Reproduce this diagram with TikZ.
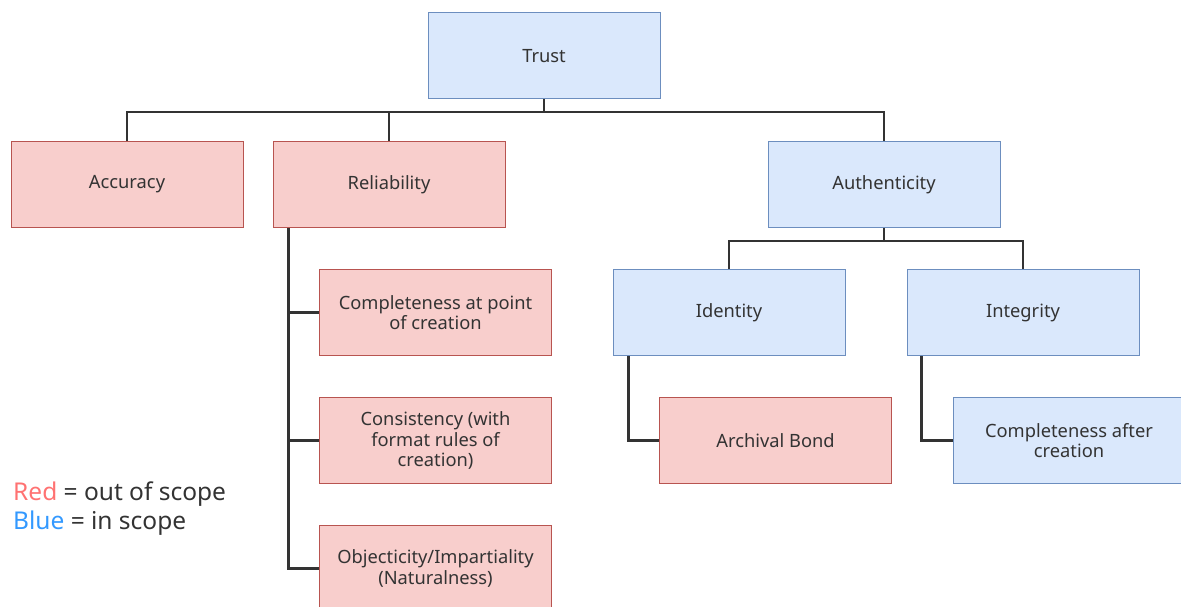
\documentclass[tikz,border=0pt]{standalone}
\usepackage{fontspec}
\setmainfont{Noto Sans}
\begin{document}
\begin{tikzpicture}[x=1pt,y=-1pt,
  every node/.style={font=\fontsize{18.3}{20.5}\selectfont, text=black!80},
  redbox/.style={draw=redline, fill=redfill, line width=1pt, minimum width=232pt, minimum height=86pt, align=center, inner sep=0pt},
  bluebox/.style={draw=blueline, fill=bluefill, line width=1pt, minimum width=232pt, minimum height=86pt, align=center, inner sep=0pt},
  link/.style={draw=linkgray, line width=2.8pt}
]
\definecolor{redfill}{HTML}{F8CECC}
\definecolor{redline}{HTML}{B85450}
\definecolor{bluefill}{HTML}{DAE8FC}
\definecolor{blueline}{HTML}{6C8EBF}
\definecolor{linkgray}{HTML}{333333}
\definecolor{legred}{HTML}{FF7272}
\definecolor{legblue}{HTML}{3399FF}
\useasboundingbox (0,0) rectangle (1181,607);

% boxes
\node[bluebox] (trust) at (544,56) {Trust};
\node[redbox] (acc) at (127,184.5) {Accuracy};
\node[redbox] (rel) at (389,184.5) {Reliability};
\node[bluebox] (auth) at (884,184.5) {Authenticity};
\node[redbox] (c1) at (435.5,312.5) {Completeness at point\\of creation};
\node[redbox] (c2) at (435.5,440.5) {Consistency (with\\format rules of\\creation)};
\node[redbox] (c3) at (435.5,568.5) {Objecticity/Impartiality\\(Naturalness)};
\node[bluebox] (ident) at (729,312.5) {Identity};
\node[bluebox] (integ) at (1023,312.5) {Integrity};
\node[redbox] (bond) at (775.5,440.5) {Archival Bond};
\node[bluebox] (after) at (1069,440.5) {Completeness after\\creation};

% bus levels
\coordinate (topbus) at (544,112);
\coordinate (authbus) at (884,241);

% Trust to first level
\draw[link] (trust.south) -- (trust.south |- topbus) -| (acc.north);
\draw[link] (trust.south) -- (trust.south |- topbus) -| (rel.north);
\draw[link] (trust.south) -- (trust.south |- topbus) -| (auth.north);

% Reliability children
\draw[link] ([xshift=16pt]rel.south west) |- (c1.west);
\draw[link] ([xshift=16pt]rel.south west) |- (c2.west);
\draw[link] ([xshift=16pt]rel.south west) |- (c3.west);

% Authenticity children
\draw[link] (auth.south) -- (authbus) -| (ident.north);
\draw[link] (auth.south) -- (authbus) -| (integ.north);

% Identity / Integrity children
\draw[link] ([xshift=16pt]ident.south west) |- (bond.west);
\draw[link] ([xshift=15pt]integ.south west) |- (after.west);

% legend
\node[anchor=west, font=\fontsize{24.5}{29}\selectfont, align=left, inner sep=0pt] (legend) at (13,509)
  {\textcolor{legred}{Red} = out of scope\\\textcolor{legblue}{Blue} = in scope};
\end{tikzpicture}
\end{document}
